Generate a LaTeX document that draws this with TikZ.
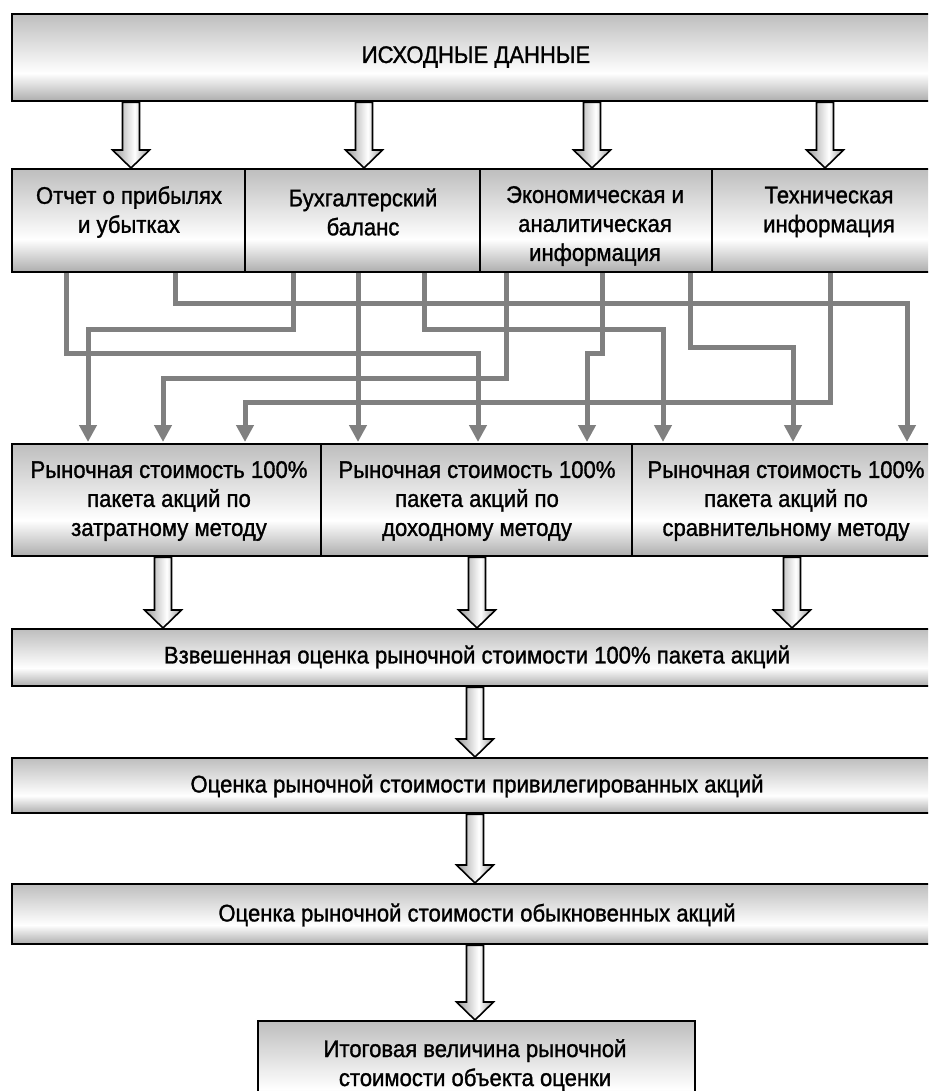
\documentclass[tikz,border=0pt]{standalone}
\usepackage{fontspec}
\setmainfont[FakeStretch=0.92,FakeBold=1.2]{Liberation Sans}
\usetikzlibrary{arrows.meta,calc}
\definecolor{cgrey}{HTML}{808080}
\definecolor{bxt}{HTML}{BEBEBE}
\definecolor{bxb}{HTML}{ADADAD}
\definecolor{arg}{HTML}{9A9A9A}
\pgfdeclareverticalshading{boxsh}{100bp}{color(0bp)=(bxb); color(25bp)=(bxb); color(41bp)=(white); color(75bp)=(bxt); color(100bp)=(bxt)}
\pgfdeclarehorizontalshading{arrsh}{100bp}{color(0bp)=(arg); color(25bp)=(arg); color(55bp)=(white); color(75bp)=(arg); color(100bp)=(arg)}
\newcommand\harrow[2]{%
  \path[harr] let \p1=(#1), \p2=(#2) in
    (\x1-8.5pt,\y1) -- (\x1-8.5pt,\y2+18pt) -- (\x1-18.5pt,\y2+18pt) -- (\x1,\y2)
    -- (\x1+18.5pt,\y2+18pt) -- (\x1+8.5pt,\y2+18pt) -- (\x1+8.5pt,\y1) -- cycle;}
\begin{document}
\begin{tikzpicture}[x=1pt,y=-1pt,
  box/.style={draw=black, line width=2.4pt, shade, shading=boxsh, rectangle, inner sep=0pt, anchor=north west},
  lbl/.style={font=\fontsize{24}{29}\selectfont, align=center, inner sep=0pt},
  harr/.style={draw=black, line width=1.6pt, shade, shading=arrsh, line join=miter},
  link/.style={draw=cgrey, line width=5pt, line join=miter, -{Triangle[width=17pt,length=17pt]}}]
\useasboundingbox (0,0) rectangle (928,1091);
\clip (0,0) rectangle (928,1091);

% connector end points
\coordinate (s1) at (66,272);  \coordinate (d1) at (478,442);
\coordinate (s2) at (175,272); \coordinate (d2) at (907,442);
\coordinate (s3) at (293,272); \coordinate (d3) at (88,442);
\coordinate (s4) at (358,272); \coordinate (d4) at (358,442);
\coordinate (s5) at (424,272); \coordinate (d5) at (663,442);
\coordinate (s6) at (506,272); \coordinate (d6) at (163,442);
\coordinate (s7) at (602,272); \coordinate (d7) at (587,442);
\coordinate (s8) at (690,272); \coordinate (d8) at (793,442);
\coordinate (s9) at (830,272); \coordinate (d9) at (245,442);

\draw[link] (s1) -- ++(0,81) -| (d1);
\draw[link] (s2) -- ++(0,31) -| (d2);
\draw[link] (s3) -- ++(0,57) -| (d3);
\draw[link] (s4) -- (d4);
\draw[link] (s5) -- ++(0,57) -| (d5);
\draw[link] (s6) -- ++(0,106) -| (d6);
\draw[link] (s7) -- ++(0,81) -| (d7);
\draw[link] (s8) -- ++(0,75) -| (d8);
\draw[link] (s9) -- ++(0,130) -| (d9);

% boxes
\node[box, minimum width=930pt, minimum height=87pt] (top) at (11,13) {};
\node[box, minimum width=233pt, minimum height=103pt] (b1) at (11,168) {};
\node[box, minimum width=235pt, minimum height=103pt] (b2) at (244,168) {};
\node[box, minimum width=232pt, minimum height=103pt] (b3) at (479,168) {};
\node[box, minimum width=236pt, minimum height=103pt] (b4) at (711,168) {};
\node[box, minimum width=309pt, minimum height=112pt] (c1) at (11,443) {};
\node[box, minimum width=311pt, minimum height=112pt] (c2) at (320,443) {};
\node[box, minimum width=312pt, minimum height=112pt] (c3) at (631,443) {};
\node[box, minimum width=932pt, minimum height=57pt] (w) at (11,628) {};
\node[box, minimum width=932pt, minimum height=55pt] (p) at (11,757) {};
\node[box, minimum width=932pt, minimum height=60pt] (o) at (11,883) {};
\node[box, minimum width=437pt, minimum height=100pt] (f) at (257,1020) {};

% hollow arrows
\coordinate (a1) at (131,0); \coordinate (a2) at (364,0);
\coordinate (a3) at (592,0); \coordinate (a4) at (825,0);
\coordinate (a5) at (163,0); \coordinate (a6) at (477,0);
\coordinate (a7) at (792,0); \coordinate (a8) at (475,0);
\harrow{top.south -| a1}{b1.north -| a1}
\harrow{top.south -| a2}{b2.north -| a2}
\harrow{top.south -| a3}{b3.north -| a3}
\harrow{top.south -| a4}{b4.north -| a4}
\harrow{c1.south -| a5}{w.north -| a5}
\harrow{c2.south -| a6}{w.north -| a6}
\harrow{c3.south -| a7}{w.north -| a7}
\harrow{w.south -| a8}{p.north -| a8}
\harrow{p.south -| a8}{o.north -| a8}
\harrow{o.south -| a8}{f.north -| a8}

% texts
\node[lbl] (ttop) at (476,57) {ИСХОДНЫЕ ДАННЫЕ};
\node[lbl] (t1) at (129,212) {Отчет о прибылях\\и убытках};
\node[lbl] (t2) at (363,212) {Бухгалтерский\\баланс};
\node[lbl] (t3) at (595,226) {Экономическая и\\аналитическая\\информация};
\node[lbl] (t4) at (829,212) {Техническая\\информация};
\node[lbl] (tc1) at (169,501) {Рыночная стоимость 100\%\\пакета акций по\\затратному методу};
\node[lbl] (tc2) at (477,501) {Рыночная стоимость 100\%\\пакета акций по\\доходному методу};
\node[lbl] (tc3) at (786,501) {Рыночная стоимость 100\%\\пакета акций по\\сравнительному методу};
\node[lbl] (tw) at (477,657) {Взвешенная оценка рыночной стоимости 100\% пакета акций};
\node[lbl] (tp) at (477,786) {Оценка рыночной стоимости привилегированных акций};
\node[lbl] (to) at (477,915) {Оценка рыночной стоимости обыкновенных акций};
\node[lbl] (tf) at (475,1065) {Итоговая величина рыночной\\стоимости объекта оценки};
\end{tikzpicture}
\end{document}
